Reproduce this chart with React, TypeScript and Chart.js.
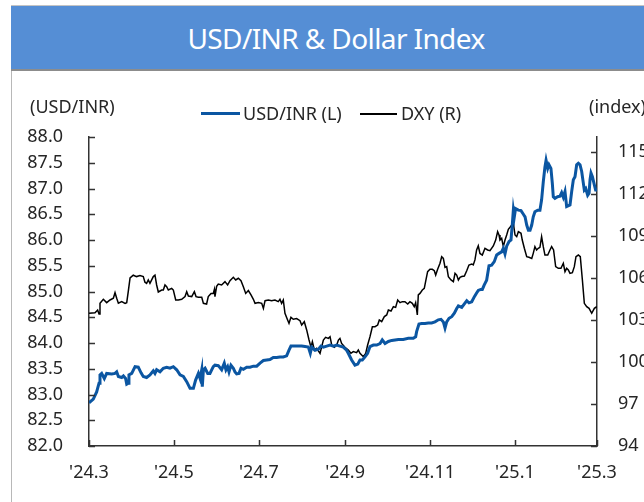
import React, { useEffect, useRef } from 'react';
import { Chart, registerables } from 'chart.js';

Chart.register(...registerables);

// ---- Data ----
const xTickDays = [0, 61, 122, 184, 245, 306, 365]; // days since 2024-03-01
const xTickLabels = ["'24.3", "'24.5", "'24.7", "'24.9", "'24.11", "'25.1", "'25.3"];
const leftMin = 82;
const leftMax = 88;
const leftStep = 0.5;
const rightTicks = [94, 97, 100, 103, 106, 109, 112, 115];
const rightMin = 94;
const rightMax = 116.07;

const inrDays = [0, 3.1, 5.5, 7.2, 7.9, 9.1, 11.0, 12.7, 16.3, 18.7, 19.9, 21.1, 23.5, 24.7, 26.3, 27.1, 28.3, 28.7, 30.7, 33.1, 35.4, 37.4, 39.0, 41.4, 43.8, 46.2, 47.4, 48.6, 51.0, 53.4, 55.8, 58.2, 60.6, 63.0, 65.4, 67.8, 70.2, 72.6, 75.0, 76.6, 78.6, 79.8, 81.0, 81.4, 82.2, 83.4, 85.3, 86.9, 89.3, 90.5, 92.9, 95.3, 97.2, 98.4, 99.6, 100.6, 102.0, 103.7, 104.9, 106.1, 107.8, 109.2, 110.9, 113.3, 115.7, 118.1, 120.5, 122.9, 125.3, 127.7, 130.0, 132.4, 134.8, 137.2, 139.6, 142.0, 143.7, 145.1, 148.0, 150.4, 152.8, 155.2, 157.6, 159.0, 160.0, 162.4, 164.8, 166.7, 168.4, 170.8, 173.2, 175.6, 178.0, 180.3, 182.7, 185.1, 186.3, 188.7, 191.1, 193.1, 194.7, 196.4, 198.3, 200.2, 201.9, 204.3, 206.7, 209.1, 210.7, 212.7, 215.1, 217.5, 219.9, 222.3, 225.8, 229.4, 233.0, 234.7, 235.4, 237.1, 239.0, 241.4, 243.8, 246.2, 248.6, 251.0, 252.9, 254.6, 255.8, 257.0, 258.7, 260.6, 262.5, 264.2, 265.4, 267.8, 269.7, 271.4, 273.0, 275.0, 276.9, 278.5, 279.7, 281.5, 282.6, 284.0, 285.7, 287.4, 289.3, 291.2, 292.9, 294.6, 296.5, 297.7, 298.9, 300.1, 301.8, 303.2, 304.2, 304.9, 305.6, 306.5, 308.5, 310.4, 312.1, 313.3, 314.5, 315.7, 316.9, 318.1, 319.2, 320.4, 322.4, 324.0, 325.2, 326.4, 327.6, 328.4, 329.6, 330.5, 331.9, 332.9, 333.6, 334.8, 336.7, 338.4, 339.6, 340.8, 342.0, 343.2, 345.6, 346.8, 348.0, 349.2, 350.4, 351.6, 352.8, 354.0, 355.2, 355.9, 356.9, 358.3, 359.3, 360.0, 360.7, 361.7, 363.1, 364.0, 365.0];
const inrValues = [82.84, 82.91, 83.05, 83.22, 83.38, 83.41, 83.31, 83.41, 83.40, 83.41, 83.44, 83.35, 83.33, 83.36, 83.31, 83.20, 83.22, 83.38, 83.41, 83.54, 83.53, 83.42, 83.35, 83.33, 83.38, 83.46, 83.41, 83.48, 83.44, 83.51, 83.53, 83.51, 83.54, 83.48, 83.38, 83.35, 83.25, 83.12, 83.12, 83.28, 83.41, 83.31, 83.48, 83.15, 83.48, 83.51, 83.41, 83.41, 83.54, 83.57, 83.56, 83.48, 83.61, 83.48, 83.54, 83.44, 83.57, 83.51, 83.44, 83.40, 83.41, 83.51, 83.49, 83.53, 83.53, 83.55, 83.55, 83.61, 83.66, 83.67, 83.68, 83.72, 83.72, 83.73, 83.73, 83.75, 83.86, 83.94, 83.94, 83.94, 83.94, 83.93, 83.92, 83.80, 83.92, 83.86, 83.88, 83.94, 83.92, 83.94, 83.96, 83.94, 83.96, 83.94, 83.92, 83.86, 83.80, 83.67, 83.57, 83.59, 83.67, 83.67, 83.73, 83.80, 83.93, 83.96, 83.96, 83.99, 84.06, 83.99, 84.03, 84.05, 84.06, 84.07, 84.07, 84.09, 84.09, 84.12, 84.22, 84.37, 84.38, 84.38, 84.39, 84.39, 84.41, 84.45, 84.46, 84.41, 84.29, 84.41, 84.48, 84.51, 84.58, 84.67, 84.72, 84.69, 84.76, 84.82, 84.78, 84.80, 84.90, 84.97, 85.02, 85.04, 85.04, 85.13, 85.22, 85.50, 85.51, 85.58, 85.71, 85.74, 85.77, 85.84, 85.73, 85.88, 85.97, 86.00, 86.32, 86.58, 86.45, 86.61, 86.58, 86.57, 86.50, 86.45, 86.29, 86.19, 86.19, 86.29, 86.45, 86.55, 86.58, 86.58, 86.78, 87.13, 87.42, 87.55, 87.39, 87.46, 87.39, 87.10, 86.84, 86.81, 86.84, 86.85, 86.92, 86.83, 86.94, 86.65, 86.68, 86.94, 87.17, 87.23, 87.46, 87.49, 87.46, 87.33, 87.10, 86.97, 87.00, 86.87, 86.91, 87.17, 87.30, 87.23, 87.07, 86.97, 86.97];

const dxyDays = [0, 4.3, 6.2, 7.2, 7.9, 10.3, 12.7, 15.1, 17.5, 18.7, 19.9, 21.1, 23.5, 25.9, 27.1, 28.3, 29.5, 31.8, 34.2, 36.6, 39.0, 40.2, 41.4, 42.6, 43.8, 46.2, 47.4, 48.6, 49.8, 52.2, 53.4, 54.6, 55.8, 57.0, 59.4, 60.6, 62.3, 64.2, 66.6, 69.0, 70.2, 71.4, 73.8, 75.7, 76.9, 78.6, 81.0, 82.2, 84.5, 85.7, 87.7, 89.3, 90.1, 90.5, 91.7, 92.9, 95.3, 97.7, 99.6, 101.3, 103.7, 105.4, 107.3, 109.2, 110.9, 112.6, 114.5, 116.4, 118.1, 119.3, 121.7, 124.1, 125.3, 126.5, 128.9, 131.2, 133.6, 136.0, 137.2, 138.4, 139.6, 140.8, 142.7, 143.7, 145.1, 146.8, 149.2, 151.6, 152.8, 154.7, 156.4, 158.1, 159.5, 160.5, 161.9, 163.6, 166.0, 167.2, 168.4, 170.0, 172.0, 173.2, 174.4, 176.3, 178.0, 179.2, 180.3, 181.5, 183.9, 186.3, 188.2, 189.9, 192.3, 193.5, 194.7, 195.9, 197.1, 198.8, 200.2, 201.9, 203.6, 205.5, 207.4, 208.6, 210.3, 212.2, 213.9, 215.1, 217.0, 218.7, 220.3, 221.8, 223.5, 225.1, 227.0, 229.0, 230.6, 232.3, 233.7, 234.7, 235.9, 236.6, 237.8, 239.5, 240.9, 242.1, 243.3, 245.0, 246.7, 248.1, 249.1, 250.5, 252.2, 253.4, 254.6, 255.8, 257.0, 258.2, 260.1, 261.8, 263.0, 264.2, 265.4, 266.6, 267.8, 269.7, 271.4, 273.0, 275.0, 276.1, 277.3, 278.5, 279.7, 280.9, 282.6, 284.5, 286.4, 288.1, 290.5, 292.2, 293.6, 294.6, 295.3, 296.5, 297.7, 298.9, 300.1, 301.3, 302.5, 303.7, 304.9, 306.1, 307.3, 308.5, 310.4, 311.3, 312.8, 314.5, 316.1, 318.1, 319.2, 320.4, 321.6, 322.8, 324.0, 325.2, 326.4, 327.6, 329.6, 331.2, 332.4, 333.8, 335.3, 337.2, 339.1, 340.8, 342.0, 343.2, 344.4, 345.6, 347.3, 348.7, 349.9, 351.6, 353.0, 354.5, 355.9, 357.6, 359.3, 361.2, 363.1, 364.8];
const dxyValues = [103.48, 103.52, 103.71, 103.43, 104.19, 104.48, 104.24, 104.43, 104.55, 104.95, 104.55, 104.20, 104.31, 104.19, 104.24, 105.10, 106.00, 106.20, 106.10, 106.17, 106.10, 105.70, 105.62, 105.86, 105.62, 106.10, 106.20, 105.50, 105.00, 105.14, 105.14, 105.50, 105.38, 105.14, 105.26, 105.14, 104.43, 104.43, 104.48, 104.67, 105.02, 104.71, 104.67, 105.02, 104.67, 104.62, 104.62, 104.19, 104.14, 104.67, 104.90, 104.90, 105.19, 104.67, 105.40, 105.57, 105.50, 105.74, 105.50, 105.81, 106.05, 105.86, 105.98, 105.81, 105.38, 104.90, 105.10, 104.79, 104.48, 104.19, 104.24, 104.19, 103.83, 104.38, 104.43, 104.38, 104.43, 104.31, 104.48, 104.19, 104.43, 103.48, 103.00, 102.76, 103.19, 103.05, 103.10, 102.95, 102.64, 102.88, 102.29, 101.57, 101.05, 101.45, 100.86, 100.98, 100.62, 101.10, 101.57, 101.76, 101.69, 101.81, 101.21, 101.05, 101.21, 101.57, 101.69, 101.33, 101.05, 100.86, 100.62, 100.74, 100.67, 100.86, 100.62, 100.50, 100.38, 100.62, 101.21, 101.81, 102.52, 102.52, 102.64, 103.00, 102.88, 103.24, 103.36, 103.71, 103.64, 103.95, 103.90, 104.43, 104.24, 104.31, 104.31, 104.14, 104.31, 104.19, 103.95, 104.24, 103.36, 104.79, 104.90, 105.14, 105.26, 105.86, 106.45, 106.62, 106.62, 106.52, 106.21, 106.62, 107.05, 107.52, 107.40, 106.76, 106.81, 106.10, 105.86, 105.74, 106.33, 106.21, 105.86, 106.05, 106.10, 106.14, 106.52, 106.93, 107.00, 106.93, 107.29, 108.00, 108.30, 107.75, 107.64, 108.12, 108.00, 107.95, 108.29, 108.71, 109.31, 109.07, 108.71, 108.83, 108.24, 108.71, 109.07, 109.48, 109.62, 109.79, 109.90, 109.07, 108.95, 109.31, 109.19, 108.71, 108.12, 107.52, 107.48, 107.40, 107.76, 108.24, 108.00, 108.12, 108.19, 108.95, 108.24, 107.64, 107.64, 108.00, 108.24, 108.00, 106.81, 106.69, 106.69, 107.05, 106.45, 106.69, 106.57, 106.33, 106.38, 106.81, 107.52, 107.64, 107.52, 105.86, 104.19, 103.95, 103.83, 103.48, 103.83, 103.95];

// ---- Styles ----
const FONT = "'Noto Sans', 'Open Sans', sans-serif";
const TEXT = '#262626';
const AXIS = '#333333';
const BLUE = '#0B56A2';
const BAND = '#558ED5';

const innerTicks = {
  id: 'innerTicks',
  afterDraw(chart: any) {
    const { ctx, scales } = chart;
    const x = scales.x, y = scales.y, y1 = scales.y1;
    const len = 6;
    ctx.save();
    ctx.strokeStyle = AXIS;
    ctx.lineWidth = 1.5;
    ctx.beginPath();
    y.ticks.forEach((t: any) => {
      const py = Math.round(y.getPixelForValue(t.value)) + 0.5;
      ctx.moveTo(y.right, py);
      ctx.lineTo(y.right + len, py);
    });
    y1.ticks.forEach((t: any) => {
      const py = Math.round(y1.getPixelForValue(t.value)) + 0.5;
      ctx.moveTo(y1.left, py);
      ctx.lineTo(y1.left - len, py);
    });
    x.ticks.forEach((t: any) => {
      const px = Math.round(x.getPixelForValue(t.value)) + 0.5;
      ctx.moveTo(px, x.top);
      ctx.lineTo(px, x.top - len);
    });
    ctx.stroke();
    ctx.restore();
  },
};

function ChartCanvas() {
  const ref = useRef<HTMLCanvasElement | null>(null);
  useEffect(() => {
    if (!ref.current) return;
    const tickFont = { family: FONT, size: 18 };
    const chart = new Chart(ref.current, {
      type: 'line',
      data: {
        datasets: [
          {
            label: 'USD/INR (L)',
            data: inrDays.map((d, i) => ({ x: d, y: inrValues[i] })),
            borderColor: BLUE,
            borderWidth: 3,
            pointRadius: 0,
            tension: 0,
            yAxisID: 'y',
          },
          {
            label: 'DXY (R)',
            data: dxyDays.map((d, i) => ({ x: d, y: dxyValues[i] })),
            borderColor: '#000000',
            borderWidth: 1.5,
            pointRadius: 0,
            tension: 0,
            yAxisID: 'y1',
          },
        ],
      },
      options: {
        animation: false,
        responsive: false,
        maintainAspectRatio: false,
        devicePixelRatio: 1,
        layout: { padding: { top: 137, left: 0, right: 0, bottom: 0 } },
        plugins: { legend: { display: false }, tooltip: { enabled: false }, title: { display: false } },
        scales: {
          x: {
            type: 'linear',
            min: 0,
            max: 365,
            afterBuildTicks: (s: any) => {
              s.ticks = xTickDays.map((v) => ({ value: v }));
            },
            afterFit: (s: any) => {
              s.height = 56;
            },
            ticks: {
              autoSkip: false,
              maxRotation: 0,
              padding: 16,
              color: TEXT,
              font: tickFont,
              callback: (v: any) => xTickLabels[xTickDays.indexOf(v)] ?? '',
            },
            grid: { display: false, drawTicks: false },
            border: { display: true, color: AXIS, width: 1.5 },
          },
          y: {
            type: 'linear',
            position: 'left',
            min: leftMin,
            max: leftMax,
            afterFit: (s: any) => {
              s.width = 89;
            },
            ticks: {
              stepSize: leftStep,
              padding: 26,
              color: TEXT,
              font: tickFont,
              callback: (v: any) => Number(v).toFixed(1),
            },
            grid: { display: false, drawTicks: false },
            border: { display: true, color: AXIS, width: 1.5 },
          },
          y1: {
            type: 'linear',
            position: 'right',
            min: rightMin,
            max: rightMax,
            afterBuildTicks: (s: any) => {
              s.ticks = rightTicks.map((v) => ({ value: v }));
            },
            afterFit: (s: any) => {
              s.width = 47;
            },
            ticks: {
              padding: 21,
              color: TEXT,
              font: tickFont,
              callback: (v: any) => String(v),
            },
            grid: { display: false, drawTicks: false },
            border: { display: true, color: AXIS, width: 1.5 },
          },
        },
      },
      plugins: [innerTicks],
    } as any);
    return () => chart.destroy();
  }, []);
  return (
    <canvas
      ref={ref}
      width={644}
      height={502}
      style={{ position: 'absolute', left: 0, top: 0, width: 644, height: 502 }}
    />
  );
}

const textStyle: React.CSSProperties = {
  position: 'absolute',
  fontFamily: FONT,
  fontSize: 18,
  lineHeight: '18px',
  color: TEXT,
  whiteSpace: 'nowrap',
};

export default function App() {
  return (
    <div
      style={{
        position: 'fixed',
        left: 0,
        top: 0,
        width: 644,
        height: 502,
        overflow: 'hidden',
        background: '#ffffff',
      }}
    >
      {/* frame lines */}
      <div style={{ position: 'absolute', left: 11, top: 5, width: 660, height: 1, background: '#c4c4c4' }} />
      <div style={{ position: 'absolute', left: 11, top: 70, width: 1, height: 440, background: '#b8b8b8' }} />
      {/* header band */}
      <div
        style={{
          position: 'absolute',
          left: 11,
          top: 6,
          width: 650,
          height: 63,
          background: BAND,
          borderBottom: '2px solid #8c8c8c',
          display: 'flex',
          alignItems: 'center',
          justifyContent: 'center',
        }}
      >
        <span style={{ fontFamily: FONT, fontSize: 28, color: '#ffffff', letterSpacing: -0.6 }}>
          USD/INR &amp; Dollar Index
        </span>
      </div>
      <ChartCanvas />
      {/* axis titles */}
      <div style={{ ...textStyle, left: 30, top: 97 }}>(USD/INR)</div>
      <div style={{ ...textStyle, left: 589, top: 97 }}>(index)</div>
      {/* legend */}
      <div style={{ position: 'absolute', left: 201, top: 112, width: 39, height: 3, background: BLUE }} />
      <div style={{ ...textStyle, left: 243, top: 104 }}>USD/INR (L)</div>
      <div style={{ position: 'absolute', left: 360, top: 113, width: 37, height: 1.5, background: '#000' }} />
      <div style={{ ...textStyle, left: 401, top: 104 }}>DXY (R)</div>
    </div>
  );
}
